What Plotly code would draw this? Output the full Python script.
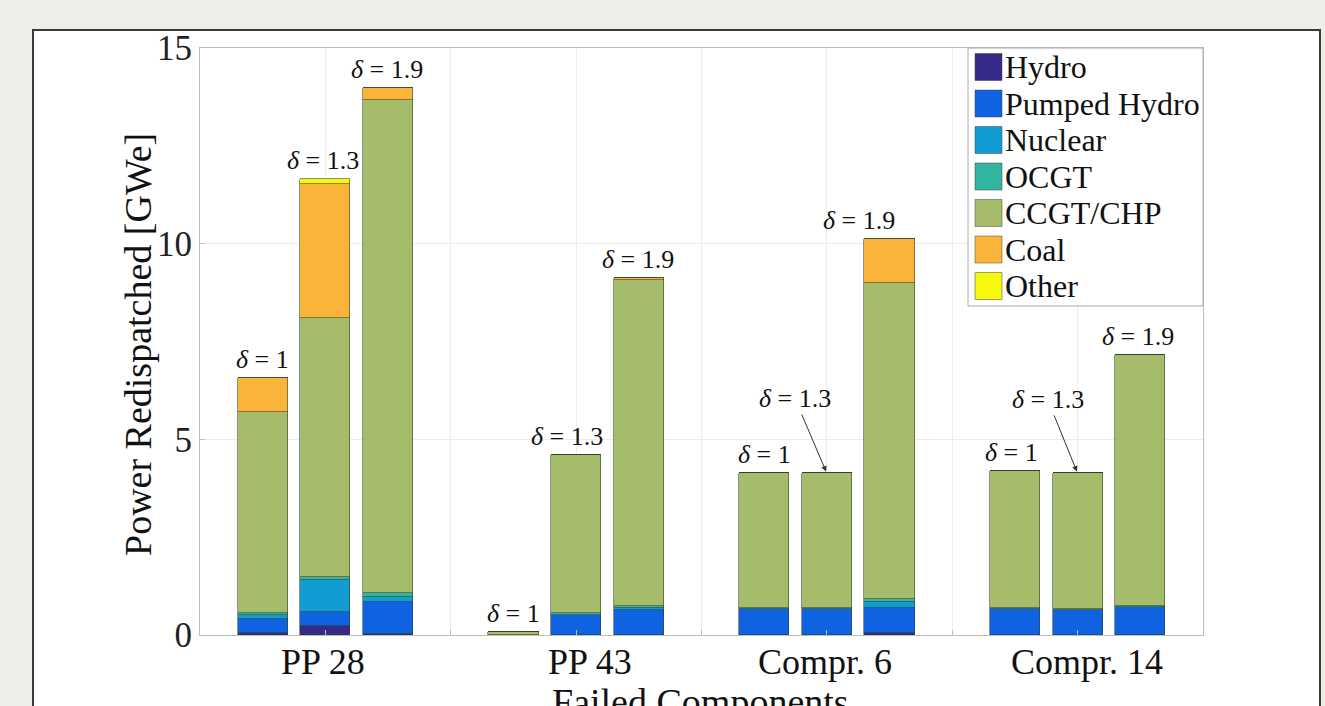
import numpy as np
import plotly.graph_objects as go

# ---------------- data ----------------
groups = ["PP 28", "PP 43", "Compr. 6", "Compr. 14"]
deltas = ["1", "1.3", "1.9"]
sources = ["Hydro", "Pumped Hydro", "Nuclear", "OCGT", "CCGT/CHP", "Coal", "Other"]

# order of each list: (PP28 d1, d1.3, d1.9), (PP43 ...), (Compr.6 ...), (Compr.14 ...)
hydro        = [0.05, 0.22, 0.02,  0.00, 0.00, 0.00,  0.00, 0.00, 0.06,  0.00, 0.00, 0.00]
pumped_hydro = [0.35, 0.36, 0.82,  0.00, 0.52, 0.65,  0.67, 0.67, 0.64,  0.67, 0.64, 0.71]
nuclear      = [0.12, 0.83, 0.14,  0.00, 0.00, 0.04,  0.00, 0.00, 0.14,  0.00, 0.00, 0.00]
ocgt         = [0.05, 0.07, 0.09,  0.00, 0.03, 0.06,  0.03, 0.03, 0.09,  0.03, 0.03, 0.04]
ccgt_chp     = [5.12, 6.61, 12.60, 0.08, 4.04, 8.32,  3.43, 3.43, 8.06,  3.48, 3.46, 6.40]
coal         = [0.87, 3.43, 0.30,  0.00, 0.00, 0.05,  0.00, 0.00, 1.13,  0.00, 0.00, 0.00]
other        = [0.00, 0.13, 0.00,  0.00, 0.00, 0.00,  0.00, 0.00, 0.00,  0.00, 0.00, 0.00]

y_ticks = [0, 5, 10, 15]

# ---------------- styling ----------------
colors = ["#352a87", "#0f62e0", "#119cd4", "#2fb5a0", "#a5bd6a", "#fbb43a", "#f6f80e"]
series = [hydro, pumped_hydro, nuclear, ocgt, ccgt_chp, coal, other]
FONT = "Liberation Serif"

W, H = 1325, 706
L, R, T, B = 200, 1203, 48, 635  # plot area in pixels


def px2x(px):
    return (px - L) / (R - L)


def py2y(py):
    return (B - py) / (B - T)


offsets = [-0.25, 0.0, 0.25]
gpos = np.arange(1, len(groups) + 1)
xpos = np.array([g + o for g in gpos for o in offsets])

fig = go.Figure()
for name, vals, col in zip(sources, series, colors):
    fig.add_trace(go.Bar(
        x=xpos, y=vals, name=name, width=0.2,
        marker=dict(color=col, line=dict(color="rgba(50,60,40,0.7)", width=0.8)),
        showlegend=False,
    ))

totals = np.sum(np.array(series), axis=0)

shapes = []
annotations = []

# outer white panel
shapes.append(dict(type="rect", xref="paper", yref="paper",
                   x0=px2x(33), x1=px2x(1320), y0=py2y(760), y1=py2y(30),
                   fillcolor="white", line=dict(color="#3a3a3a", width=2), layer="below"))

# delta labels
label_dx = [0, -2, -1,   0, -9, -1,   0, 0, -31,   -3, 0, -2]   # px shift
arrow_idx = {7: (-32, -75), 10: (-30, -74)}
for i, (xv, tot) in enumerate(zip(xpos, totals)):
    d = deltas[i % 3]
    txt = "<i>δ</i> = " + d
    if i in arrow_idx:
        ax, ay = arrow_idx[i]
        annotations.append(dict(x=xv, y=tot, xref="x", yref="y", text=txt,
                                showarrow=True, ax=ax, ay=ay, arrowhead=2, arrowsize=1.1,
                                arrowwidth=1, arrowcolor="#333", standoff=2,
                                font=dict(family=FONT, size=26, color="#111")))
    else:
        annotations.append(dict(x=xv, y=tot, xref="x", yref="y", text=txt,
                                showarrow=False, yanchor="bottom", xshift=label_dx[i], yshift=2,
                                font=dict(family=FONT, size=26, color="#111")))

# group labels
group_dx = [-2, 14, -2, 9]
for g, name, dx in zip(gpos, groups, group_dx):
    annotations.append(dict(x=g, y=py2y(662), xref="x", yref="paper", text=name,
                            showarrow=False, xshift=dx, yanchor="middle",
                            font=dict(family=FONT, size=36, color="#111")))

# axis titles
annotations.append(dict(x=px2x(700), y=py2y(679), xref="paper", yref="paper",
                        text="Failed Components", showarrow=False, xanchor="center",
                        yanchor="top",
                        font=dict(family=FONT, size=38, color="#111")))
annotations.append(dict(x=px2x(138), y=py2y(345), xref="paper", yref="paper",
                        text="Power Redispatched [GWe]", showarrow=False, textangle=-90,
                        xanchor="center", yanchor="middle",
                        font=dict(family=FONT, size=38, color="#111")))

# custom legend
shapes.append(dict(type="rect", xref="paper", yref="paper",
                   x0=px2x(968), x1=px2x(1203), y0=py2y(306), y1=py2y(48),
                   fillcolor="white", line=dict(color="#aaaaaa", width=1), layer="above"))
for k, (name, col) in enumerate(zip(sources, colors)):
    cy = 67 + k * 36.5
    shapes.append(dict(type="rect", xref="paper", yref="paper",
                       x0=px2x(975), x1=px2x(1002), y0=py2y(cy + 13.5), y1=py2y(cy - 13.5),
                       fillcolor=col, line=dict(color="rgba(60,60,60,0.6)", width=0.8),
                       layer="above"))
    annotations.append(dict(x=px2x(1003), y=py2y(cy), xref="paper", yref="paper",
                            text=name, showarrow=False, xanchor="left", yanchor="middle",
                            font=dict(family=FONT, size=32, color="#111")))

fig.update_layout(
    width=W, height=H,
    margin=dict(l=L, r=W - R, t=T, b=H - B, pad=0),
    paper_bgcolor="#eceee8", plot_bgcolor="white",
    barmode="stack", bargap=0,
    shapes=shapes, annotations=annotations,
    xaxis=dict(range=[0.5, 4.5], tickvals=list(np.arange(0.5, 4.51, 0.5)),
               showticklabels=False, showgrid=True, gridcolor="#ededed", gridwidth=1,
               showline=True, linecolor="#bdbdbd", linewidth=1, mirror=True,
               ticks="inside", ticklen=5, tickcolor="#bdbdbd", zeroline=False),
    yaxis=dict(range=[0, 15], tickvals=y_ticks, showgrid=True, gridcolor="#ededed",
               showline=True, linecolor="#bdbdbd", linewidth=1, mirror=True,
               ticks="inside", ticklen=5, tickcolor="#bdbdbd", zeroline=False,
               tickfont=dict(family=FONT, size=35, color="#222")),
    font=dict(family=FONT),
)

fig.write_html(
    "out.html",
    config={"displayModeBar": False},
    post_script="document.body.style.margin='0';document.body.style.background='#eceee8';",
)
